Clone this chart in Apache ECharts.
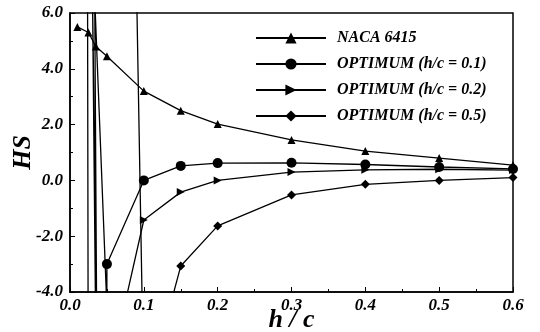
<!DOCTYPE html>
<html>
<head>
<meta charset="utf-8">
<script src="https://cdn.jsdelivr.net/npm/echarts@6/dist/echarts.min.js"></script>
<style>
html,body{margin:0;padding:0;background:#fff;}
#chart{width:540px;height:332px;}
</style>
</head>
<body>
<div id="chart"></div>
<script>
// ---- data ----
const seriesNames = ['NACA 6415', 'OPTIMUM (h/c = 0.1)', 'OPTIMUM (h/c = 0.2)', 'OPTIMUM (h/c = 0.5)'];

const nacaX = [0.01, 0.025, 0.035, 0.05, 0.1, 0.15, 0.2, 0.3, 0.4, 0.5, 0.6];
const nacaY = [5.5, 5.3, 4.8, 4.45, 3.2, 2.5, 2.02, 1.45, 1.05, 0.8, 0.55];

// h/c = 0.1 : includes off-scale points near the singularities
const opt01X = [0.0238, 0.0245, 0.0345, 0.0305, 0.032, 0.036, 0.0375, 0.0335, 0.035, 0.0499, 0.05, 0.1, 0.15, 0.2, 0.3, 0.4, 0.5, 0.6];
const opt01Y = [6.5, -4.5, -4.5, 6.5, 6.5, -4.5, -4.5, 6.5, 6.5, -4.5, -3.0, 0.0, 0.52, 0.62, 0.63, 0.57, 0.48, 0.41];

const opt02X = [0.0737, 0.1, 0.15, 0.2, 0.3, 0.4, 0.5, 0.6];
const opt02Y = [-4.5, -1.42, -0.42, 0.0, 0.3, 0.38, 0.4, 0.37];

const opt05X = [0.0904, 0.1002, 0.15, 0.2, 0.3, 0.4, 0.5, 0.6];
const opt05Y = [6.5, -8.0, -3.07, -1.63, -0.52, -0.14, 0.0, 0.1];

const xTicks = { min: 0, max: 0.6, interval: 0.1 };
const yTicks = { min: -4, max: 6, interval: 2 };

// ---- chart ----
const fontFam = '"Liberation Serif", "DejaVu Serif", serif';
function pts(xs, ys) {
  return xs.map((x, i) => {
    const y = ys[i];
    const off = y < yTicks.min || y > yTicks.max;
    return off ? { value: [x, y], symbol: 'none' } : { value: [x, y] };
  });
}
const lineStyle = { color: '#000', width: 1.3 };
const itemStyle = { color: '#000' };
function mk(name, xs, ys, symbol, size, rot) {
  return {
    name: name, type: 'line', data: pts(xs, ys), clip: true,
    symbol: symbol, symbolSize: size, symbolRotate: rot || 0, showAllSymbol: true,
    lineStyle: lineStyle, itemStyle: itemStyle, emphasis: { disabled: true },
    animation: false
  };
}

const chart = echarts.init(document.getElementById('chart'), null, { renderer: 'canvas' });
chart.setOption({
  backgroundColor: '#fff',
  animation: false,
  grid: { left: 70, right: 27, top: 13, bottom: 40, containLabel: false, outerBoundsMode: 'none',
    show: true, borderColor: '#000', borderWidth: 1.5, backgroundColor: 'transparent' },
  legend: {
    orient: 'vertical', left: 250, top: 25, itemWidth: 70, itemHeight: 14, itemGap: 10,
    data: seriesNames,
    textStyle: { fontFamily: fontFam, fontStyle: 'italic', fontWeight: 'bold', fontSize: 16, lineHeight: 16, color: '#000', padding: [0, 0, 0, 6] },
    selectedMode: false
  },
  xAxis: {
    type: 'value', min: xTicks.min, max: xTicks.max, interval: xTicks.interval,
    name: 'h / c', nameLocation: 'middle', nameGap: 15, nameMoveOverlap: false,
    nameTextStyle: { fontFamily: fontFam, fontStyle: 'italic', fontWeight: 'bold', fontSize: 26, color: '#000' },
    axisLine: { onZero: false, lineStyle: { color: '#000', width: 1.5 } },
    axisTick: { inside: true, length: 5, lineStyle: { color: '#000' } },
    minorTick: { show: true, splitNumber: 2, length: 3, lineStyle: { color: '#000' } },
    splitLine: { show: false },
    axisLabel: { margin: 5, fontFamily: fontFam, fontStyle: 'italic', fontWeight: 'bold', fontSize: 17, color: '#000',
      formatter: v => v.toFixed(1) }
  },
  yAxis: {
    type: 'value', min: yTicks.min, max: yTicks.max, interval: yTicks.interval,
    name: 'HS', nameLocation: 'middle', nameGap: 34, nameRotate: 90, nameMoveOverlap: false,
    nameTextStyle: { fontFamily: fontFam, fontStyle: 'italic', fontWeight: 'bold', fontSize: 26, color: '#000' },
    axisLine: { onZero: false, lineStyle: { color: '#000', width: 1.5 } },
    axisTick: { inside: true, length: 5, lineStyle: { color: '#000' } },
    minorTick: { show: true, splitNumber: 2, length: 3, lineStyle: { color: '#000' } },
    splitLine: { show: false },
    axisLabel: { margin: 7, fontFamily: fontFam, fontStyle: 'italic', fontWeight: 'bold', fontSize: 17, color: '#000',
      formatter: v => v.toFixed(1) }
  },
  series: [
    mk(seriesNames[0], nacaX, nacaY, 'triangle', 8),
    mk(seriesNames[1], opt01X, opt01Y, 'circle', 10),
    mk(seriesNames[2], opt02X, opt02Y, 'triangle', 8, -90),
    mk(seriesNames[3], opt05X, opt05Y, 'diamond', 9)
  ]
});
</script>
</body>
</html>
